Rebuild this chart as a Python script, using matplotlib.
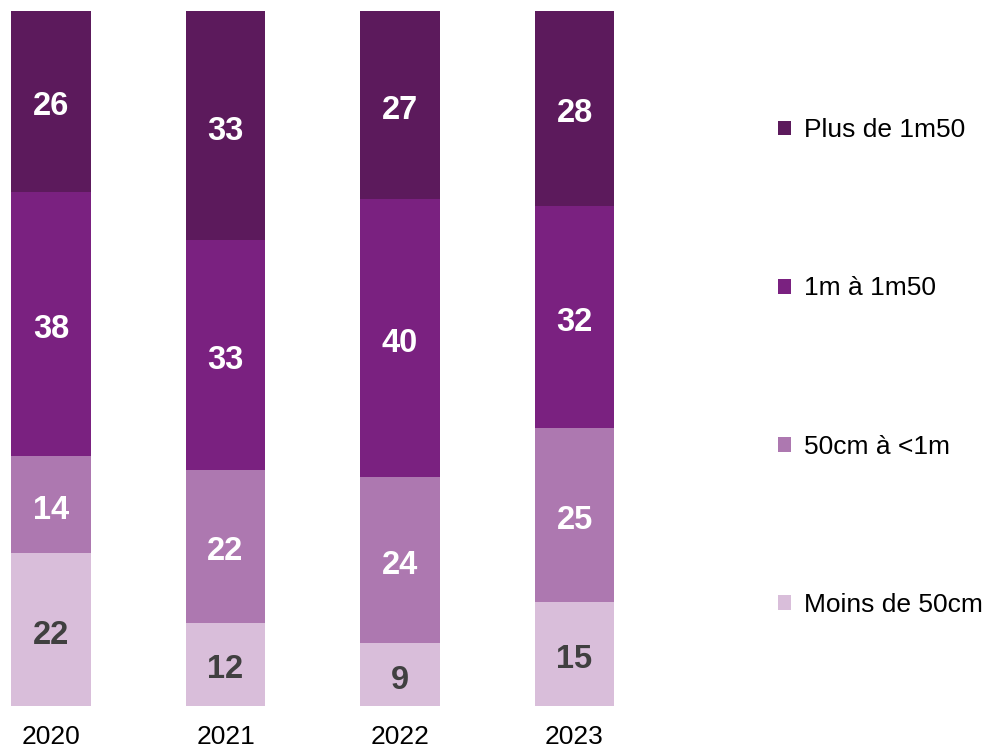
import matplotlib.pyplot as plt
import numpy as np

plt.rcParams['font.family'] = ['Liberation Sans', 'DejaVu Sans']

annees = ['2020', '2021', '2022', '2023']
categories = ['Moins de 50cm', '50cm à <1m', '1m à 1m50', 'Plus de 1m50']
valeurs = {
    'Moins de 50cm': [22, 12, 9, 15],
    '50cm à <1m': [14, 22, 24, 25],
    '1m à 1m50': [38, 33, 40, 32],
    'Plus de 1m50': [26, 33, 27, 28],
}
couleurs = ['#D9BEDA', '#AD78B0', '#7A2180', '#5C1A5C']
couleurs_texte = ['#404040', 'white', 'white', 'white']

fig = plt.figure(figsize=(9.89, 7.5), dpi=100)
# axes en pixels : gauche 0, bas 44, largeur 650, hauteur 695
ax = fig.add_axes([0, 44 / 750, 650 / 989, 695 / 750])

x = np.arange(len(annees))
bas = np.zeros(len(annees))
barres = []
for cat, coul, ct in zip(categories, couleurs, couleurs_texte):
    v = np.array(valeurs[cat])
    b = ax.bar(x, v, bottom=bas, width=0.458, color=coul, label=cat)
    barres.append(b)
    for xi, yi, vi in zip(x, bas, v):
        ax.text(xi, yi + vi / 2 - 0.3, str(vi), ha='center', va='center_baseline',
                color=ct, fontsize=23.5, fontweight='bold')
    bas += v

ax.set_xlim(-51 / 174.5, 599 / 174.5)
ax.set_ylim(0, 100)
ax.set_xticks(x)
ax.set_xticklabels(annees, fontsize=19)
ax.tick_params(axis='x', length=0, pad=14)
ax.set_yticks([])
for s in ax.spines.values():
    s.set_visible(False)

fig.legend(barres[::-1], categories[::-1], loc='center left',
           bbox_to_anchor=(778 / 989, 1 - 367.5 / 750), frameon=False,
           fontsize=19, handlelength=0.49, handleheight=0.49,
           handletextpad=0.49, labelspacing=5.08, borderpad=0,
           borderaxespad=0)

fig.savefig('out.png', dpi=100)
